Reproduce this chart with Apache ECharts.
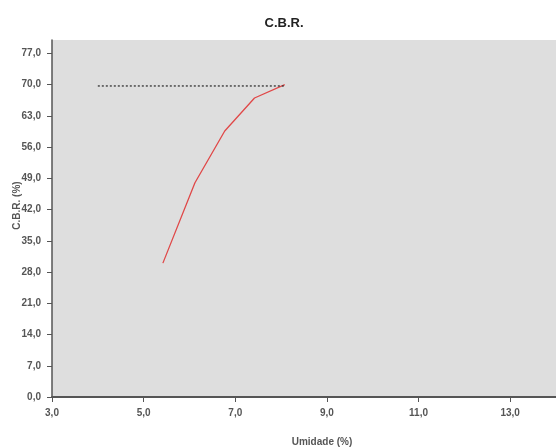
<!DOCTYPE html>
<html>
<head>
<meta charset="utf-8">
<script src="https://cdn.jsdelivr.net/npm/echarts@6/dist/echarts.min.js"></script>
<style>
  html, body { margin: 0; padding: 0; background: #fff; }
  #cbr-chart { width: 556px; height: 448px; }
</style>
</head>
<body>
<div id="cbr-chart"></div>
<script>
// C.B.R. x umidade

var umidade = [5.42, 6.12, 6.77, 7.42, 8.08];
var cbr = [30.0, 48.0, 59.6, 67.0, 70.0];

// linha pontilhada de referencia
var refX = [4.0, 8.08];
var refY = [69.7, 69.7];

var xTicks = [3, 5, 7, 9, 11, 13];
var yTicks = [0, 7, 14, 21, 28, 35, 42, 49, 56, 63, 70, 77];

var dom = document.getElementById("cbr-chart");
var myChart = echarts.init(dom);
var option;

var labelStyle = {
    color: '#555',
    fontFamily: 'Liberation Sans, Arial, sans-serif',
    fontWeight: 'bold',
    fontSize: 10,
    formatter: function (v) {
        return v.toFixed(1).replace('.', ',');
    }
};

option = {
    animation: false,
    title: {
        text: 'C.B.R.',
        left: 279,
        textAlign: 'center',
        top: 12,
        textStyle: {
            color: '#222',
            fontFamily: 'Liberation Sans, Arial, sans-serif',
            fontWeight: 'bold',
            fontSize: 13
        }
    },
    grid: {
        left: 52,
        top: 40,
        right: 0,
        bottom: 51,
        outerBoundsMode: 'none',
        containLabel: false,
        show: true,
        backgroundColor: '#dedede',
        borderWidth: 0
    },
    xAxis: {
        type: 'value',
        min: 3,
        max: 14,
        interval: 1,
        name: 'Umidade (%)',
        nameLocation: 'middle',
        nameGap: 40,
        nameTextStyle: {
            color: '#555',
            fontFamily: 'Liberation Sans, Arial, sans-serif',
            fontWeight: 'bold',
            fontSize: 10,
            padding: [0, 0, 0, 36]
        },
        axisLine: { lineStyle: { color: '#555', width: 2 } },
        axisTick: {
            customValues: xTicks,
            length: 5,
            lineStyle: { color: '#555' }
        },
        axisLabel: Object.assign({ customValues: xTicks, margin: 11 }, labelStyle),
        splitLine: { show: false }
    },
    yAxis: {
        type: 'value',
        min: 0,
        max: 80,
        interval: 1,
        name: 'C.B.R. (%)',
        nameLocation: 'middle',
        nameGap: 30,
        nameMoveOverlap: false,
        nameTextStyle: {
            color: '#555',
            fontFamily: 'Liberation Sans, Arial, sans-serif',
            fontWeight: 'bold',
            fontSize: 10,
            padding: [0, 0, 0, 26]
        },
        axisLine: { show: true, lineStyle: { color: '#555', width: 1.5 } },
        axisTick: {
            show: true,
            customValues: yTicks,
            length: 5,
            lineStyle: { color: '#555' }
        },
        axisLabel: Object.assign({ customValues: yTicks, margin: 11 }, labelStyle),
        splitLine: { show: false }
    },
    series: [
        {
            name: 'CBR',
            type: 'line',
            data: umidade.map(function (x, i) { return [x, cbr[i]]; }),
            symbol: 'none',
            lineStyle: { color: '#e04848', width: 1.3 }
        },
        {
            name: 'Referencia',
            type: 'line',
            data: refX.map(function (x, i) { return [x, refY[i]]; }),
            symbol: 'none',
            lineStyle: { color: '#333', width: 1.3, type: [2, 2] }
        }
    ]
};

if (option && typeof option === 'object') {
    myChart.setOption(option);
}
</script>
</body>
</html>
